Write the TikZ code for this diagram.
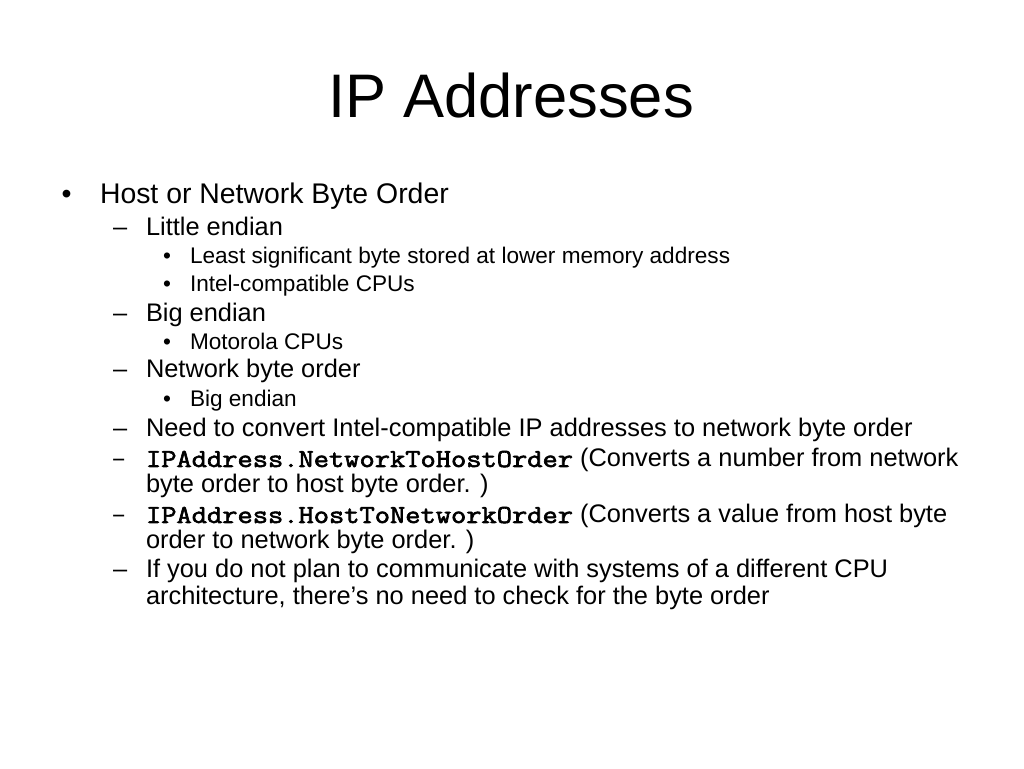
\documentclass[tikz,border=0pt]{standalone}
\usepackage{graphicx}
\usepackage{fontspec}
\setmainfont{Liberation Sans}
\newfontfamily\dashfont{Liberation Mono}
\newfontfamily\codefont{Latin Modern Mono}[FakeBold=2.2]
\newcommand\codetxt[1]{\scalebox{1.166}[1.02]{\codefont #1}}
\begin{document}
\begin{tikzpicture}[x=1pt,y=1pt,
  every node/.style={inner sep=0pt,outer sep=0pt,anchor=base west,text=black},
  titletext/.style={anchor=base,font=\fontsize{61.5}{70}\selectfont},
  lone/.style={font=\fontsize{28.4}{32}\selectfont},
  ltwo/.style={font=\fontsize{25.4}{29}\selectfont},
  lthree/.style={font=\fontsize{22.6}{26}\selectfont},
  codedash/.style={font=\fontsize{25.4}{29}\dashfont}]
\fill[white] (0,0) rectangle (1024,768);
\useasboundingbox (0,0) rectangle (1024,768);
% title
\node[titletext] (title) at (511,650) {IP Addresses};
% level 1
\node[lone] (b1) at (61.5,564) {•};
\node[lone] (t1) at (100,564) {Host or Network Byte Order};
% level 2 / 3
\node[ltwo] (d1) at (113,532) {–};
\node[ltwo] (t2) at (146,532) {Little endian};
\node[lthree] (b2) at (163,504) {•};
\node[lthree] (t3) at (190,504) {Least significant byte stored at lower memory address};
\node[lthree] (b3) at (163,476) {•};
\node[lthree] (t4) at (190,476) {Intel-compatible CPUs};
\node[ltwo] (d2) at (113,446) {–};
\node[ltwo] (t5) at (146,446) {Big endian};
\node[lthree] (b4) at (163,418) {•};
\node[lthree] (t6) at (190,418) {Motorola CPUs};
\node[ltwo] (d3) at (113,390) {–};
\node[ltwo] (t7) at (146,390) {Network byte order};
\node[lthree] (b5) at (163,361) {•};
\node[lthree] (t8) at (190,361) {Big endian};
\node[ltwo] (d4) at (113,331) {–};
\node[ltwo] (t9) at (146,331) {Need to convert Intel-compatible IP addresses to network byte order};
\node[codedash] (d5) at (111,301) {–};
\node[ltwo] (t10) at (146,301) {\codetxt{IPAddress.NetworkToHostOrder} (Converts a number from network};
\node[ltwo] (t11) at (146,275.5) {byte order to host byte order. )};
\node[codedash] (d6) at (111,245) {–};
\node[ltwo] (t12) at (146,245) {\codetxt{IPAddress.HostToNetworkOrder} (Converts a value from host byte};
\node[ltwo] (t13) at (146,219.5) {order to network byte order. )};
\node[ltwo] (d7) at (113,190) {–};
\node[ltwo] (t14) at (146,190) {If you do not plan to communicate with systems of a different CPU};
\node[ltwo] (t15) at (146,164) {architecture, there’s no need to check for the byte order};
\end{tikzpicture}
\end{document}
